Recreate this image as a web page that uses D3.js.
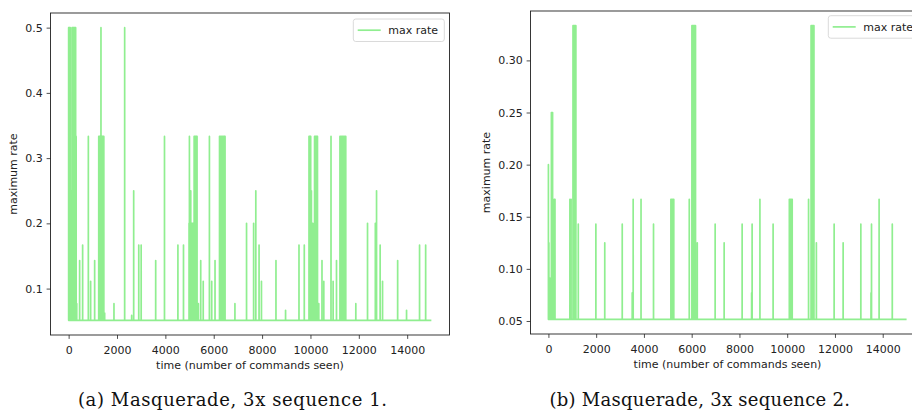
<!DOCTYPE html>
<html>
<head>
<meta charset="utf-8">
<script src="https://cdn.jsdelivr.net/npm/d3@7"></script>
<style>
  body { margin: 0; background: #fff; }
  svg { display: block; }
  text { font-family: "DejaVu Sans", sans-serif; fill: #222; }
  .caption { font-family: "DejaVu Serif", serif; fill: #111; }
</style>
</head>
<body>
<svg id="fig" width="912" height="410"></svg>
<script>
// ---- data -------------------------------------------------------------
const commandCount = 15000;
const timeTicks = [0, 2000, 4000, 6000, 8000, 10000, 12000, 14000];
const seq1RateTicks = [0.1, 0.2, 0.3, 0.4, 0.5];
const seq2RateTicks = [0.05, 0.10, 0.15, 0.20, 0.25, 0.30];
const seriesName = "max rate";
const xLabel = "time (number of commands seen)";
const yLabel = "maximum rate";
const captions = ["(a) Masquerade, 3x sequence 1.", "(b) Masquerade, 3x sequence 2."];

// sequence 1: resting rate, then the commands where the rate rises
const seq1Baseline = 0.0513;
const seq1SpikeTime = [
  0, 20, 45, 65, 85, 105, 120, 140, 165, 190, 215, 240, 265, 290, 310, 335,
  455, 579, 815, 910, 1076,
  1245, 1270, 1295, 1320, 1337, 1355, 1380, 1405, 1430, 1455, 1490,
  1875, 2317, 2607, 2690, 2900, 3000, 3600, 3964, 4519, 4750,
  4980, 4995, 5010, 5035, 5050, 5070, 5095, 5120, 5145, 5170,
  5190, 5215, 5240, 5265, 5290, 5310, 5340, 5365,
  5462, 5566, 5822, 5917, 6054,
  6240, 6270, 6300, 6330, 6360, 6390, 6420, 6450, 6468,
  6877, 7357, 7650, 7740, 7875, 7974, 8574, 8971, 9526, 9745,
  9940, 9965, 9990, 10010, 10040, 10060, 10085, 10110, 10135,
  10170, 10195, 10220, 10245, 10270, 10290, 10320, 10345,
  10477, 10552, 10850, 10937, 11077,
  11220, 11250, 11280, 11310, 11340, 11370, 11400, 11430, 11460,
  11876, 12360, 12683, 12733, 12882, 12981, 13606, 13974, 14512, 14764
];
const seq1SpikeRate = [
  0.5, 0.5, 0.5, 0.5, 0.25, 0.2, 0.25, 0.5, 0.5, 0.5, 0.5, 0.5, 0.5, 0.5, 0.3333, 0.0769,
  0.1429, 0.1667, 0.3333, 0.1111, 0.1429,
  0.3333, 0.3333, 0.3333, 0.3333, 0.5, 0.3333, 0.3333, 0.3333, 0.3333, 0.3333, 0.0625,
  0.0769, 0.5, 0.0588, 0.25, 0.1667, 0.1667, 0.1429, 0.3333, 0.1667, 0.1667,
  0.2, 0.3333, 0.2, 0.25, 0.25, 0.2, 0.2, 0.2, 0.2, 0.2,
  0.3333, 0.3333, 0.3333, 0.3333, 0.3333, 0.3333, 0.0769, 0.0769,
  0.1429, 0.1111, 0.3333, 0.1111, 0.1429,
  0.3333, 0.3333, 0.3333, 0.3333, 0.3333, 0.3333, 0.3333, 0.3333, 0.3333,
  0.0769, 0.2, 0.2, 0.25, 0.1667, 0.1111, 0.1429, 0.0667, 0.1667, 0.1667,
  0.3333, 0.3333, 0.3333, 0.3333, 0.25, 0.2, 0.2, 0.1667, 0.2,
  0.3333, 0.3333, 0.3333, 0.3333, 0.3333, 0.3333, 0.0769, 0.0769,
  0.1429, 0.1111, 0.3333, 0.1111, 0.1429,
  0.3333, 0.3333, 0.3333, 0.3333, 0.3333, 0.3333, 0.3333, 0.3333, 0.3333,
  0.0769, 0.2, 0.2, 0.25, 0.1667, 0.1111, 0.1429, 0.0667, 0.1667, 0.1667
];

// sequence 2
const seq2Baseline = 0.0516;
const seq2SpikeTime = [
  0, 20, 40, 60, 80, 100, 125, 150, 175, 200, 225, 250, 275,
  900, 950, 1030, 1060, 1090, 1120, 1150, 1251,
  1988, 2360, 3092, 3510, 3550, 3879, 4402,
  5130, 5160, 5190, 5220, 5250, 5899,
  6010, 6040, 6070, 6100, 6130, 6160, 6234,
  6983, 7360, 8113, 8510, 8531, 8858, 9410,
  10090, 10120, 10150, 10180, 10210, 10895,
  11000, 11030, 11060, 11090, 11120, 11222,
  11966, 12343, 13084, 13510, 13531, 13849, 14401
];
const seq2SpikeRate = [
  0.2, 0.125, 0.0909, 0.0909, 0.0909, 0.0909, 0.25, 0.25, 0.25, 0.1667, 0.0909, 0.1667, 0.1667,
  0.1667, 0.1667, 0.3333, 0.3333, 0.3333, 0.3333, 0.3333, 0.1429,
  0.1429, 0.125, 0.1429, 0.0769, 0.1667, 0.1667, 0.1429,
  0.1667, 0.1667, 0.1667, 0.1667, 0.1667, 0.1667,
  0.3333, 0.3333, 0.3333, 0.3333, 0.3333, 0.3333, 0.125,
  0.1429, 0.125, 0.1429, 0.0769, 0.1429, 0.1667, 0.1429,
  0.1667, 0.1667, 0.1667, 0.1667, 0.1667, 0.1667,
  0.3333, 0.3333, 0.3333, 0.3333, 0.3333, 0.125,
  0.1429, 0.125, 0.1429, 0.0769, 0.1429, 0.1667, 0.1429
];

// ---- drawing ----------------------------------------------------------
const svg = d3.select("#fig");
const lineColor = "#90ee90";
const fontSize = 11;

// one sample per command: the rate leaves the resting level at each spike
function traceFrom(times, rates, base) {
  const pts = [[0, base]];
  times.forEach((t, i) => {
    pts.push([Math.max(0, t - 1), base], [t, rates[i]], [t + 1, base]);
  });
  pts.push([commandCount, base]);
  return pts;
}

// 5% margins around the data range on each side
function padded(ext) {
  const m = (ext[1] - ext[0]) * 0.05;
  return [ext[0] - m, ext[1] + m];
}

function drawPanel(o) {
  const g = svg.append("g");
  const pts = traceFrom(o.times, o.rates, o.base);

  const x = d3.scaleLinear().domain(padded([0, commandCount])).range([o.left, o.right]);
  const y = d3.scaleLinear().domain(padded(d3.extent(pts, d => d[1]))).range([o.bottom, o.top]);

  const clipId = "clip" + o.id;
  g.append("clipPath").attr("id", clipId)
    .append("rect").attr("x", o.left).attr("y", o.top)
    .attr("width", o.right - o.left).attr("height", o.bottom - o.top);

  g.append("path")
    .datum(pts)
    .attr("clip-path", `url(#${clipId})`)
    .attr("fill", "none")
    .attr("stroke", lineColor)
    .attr("stroke-width", 1.7)
    .attr("stroke-linejoin", "round")
    .attr("d", d3.line().x(d => x(d[0])).y(d => y(d[1])));

  // axes
  const xAxis = d3.axisBottom(x).tickValues(timeTicks).tickSize(3.9).tickPadding(6.8)
    .tickFormat(d3.format("d"));
  const yAxis = d3.axisLeft(y).tickValues(o.yTicks).tickSize(3.9).tickPadding(3.8)
    .tickFormat(d3.format(o.yFormat));

  const gx = g.append("g").attr("transform", `translate(0,${o.bottom})`).call(xAxis);
  const gy = g.append("g").attr("transform", `translate(${o.left},0)`).call(yAxis);
  [gx, gy].forEach(a => {
    a.select(".domain").remove();
    a.selectAll(".tick line").attr("stroke", "#222").attr("stroke-width", 0.8);
    a.selectAll(".tick text").attr("font-size", fontSize).attr("fill", "#222")
      .style("font-family", '"DejaVu Sans", sans-serif');
  });

  // frame
  g.append("rect")
    .attr("x", o.left).attr("y", o.top)
    .attr("width", o.right - o.left).attr("height", o.bottom - o.top)
    .attr("fill", "none").attr("stroke", "#222").attr("stroke-width", 0.9);

  // axis titles
  g.append("text")
    .attr("x", (o.left + o.right) / 2).attr("y", o.bottom + 34)
    .attr("text-anchor", "middle").attr("font-size", fontSize)
    .text(xLabel);
  g.append("text")
    .attr("transform", `translate(${o.yLabelX},${(o.top + o.bottom) / 2}) rotate(-90)`)
    .attr("text-anchor", "middle").attr("dy", "0.35em").attr("font-size", fontSize)
    .text(yLabel);

  // legend
  const lg = g.append("g").attr("transform", `translate(${o.legendX},${o.legendY})`);
  lg.append("rect").attr("width", 91).attr("height", 22.5).attr("rx", 2.5)
    .attr("fill", "#fff").attr("fill-opacity", 0.8)
    .attr("stroke", "#d6d6d6").attr("stroke-width", 0.9);
  lg.append("line").attr("x1", 4.4).attr("x2", 27.4).attr("y1", 11.2).attr("y2", 11.2)
    .attr("stroke", lineColor).attr("stroke-width", 1.7);
  lg.append("text").attr("x", 35).attr("y", 11.2).attr("dy", "0.35em")
    .attr("font-size", fontSize).text(seriesName);

  // sub-figure caption
  g.append("text").attr("class", "caption")
    .attr("x", o.captionX).attr("y", 406)
    .attr("text-anchor", "middle").attr("font-size", 18)
    .attr("textLength", o.captionWidth).attr("lengthAdjust", "spacing")
    .text(o.caption);
}

drawPanel({
  id: 1, left: 50.5, right: 449.5, top: 13, bottom: 335,
  times: seq1SpikeTime, rates: seq1SpikeRate, base: seq1Baseline,
  yTicks: seq1RateTicks, yFormat: ".1f", yLabelX: 13,
  legendX: 353.3, legendY: 19, captionX: 232.5, captionWidth: 309, caption: captions[0]
});
drawPanel({
  id: 2, left: 530.5, right: 924.5, top: 11, bottom: 334,
  times: seq2SpikeTime, rates: seq2SpikeRate, base: seq2Baseline,
  yTicks: seq2RateTicks, yFormat: ".2f", yLabelX: 486,
  legendX: 828.3, legendY: 15.7, captionX: 699.7, captionWidth: 300.5, caption: captions[1]
});
</script>
</body>
</html>
